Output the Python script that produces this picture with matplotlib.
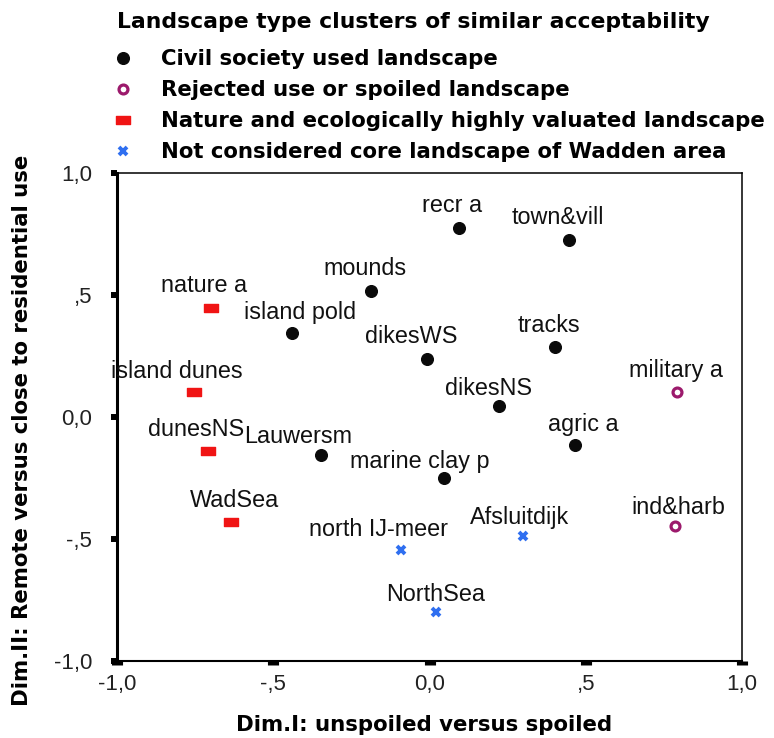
"""
Landscape type clusters of similar acceptability - 2D scaling plot"""

import matplotlib.pyplot as plt
from matplotlib.lines import Line2D
from matplotlib.path import Path

# cluster 1: civil society used landscape
civil_names = ['recr a', 'town&vill', 'mounds', 'island pold', 'dikesWS',
               'tracks', 'dikesNS', 'agric a', 'Lauwersm', 'marine clay p']
civil_x = [0.095, 0.445, -0.187, -0.440, -0.009, 0.401, 0.223, 0.467, -0.347, 0.047]
civil_y = [0.776, 0.724, 0.516, 0.343, 0.238, 0.286, 0.045, -0.115, -0.156, -0.250]

# cluster 2: rejected use or spoiled landscape
rejected_names = ['military a', 'ind&harb']
rejected_x = [0.791, 0.786]
rejected_y = [0.104, -0.446]

# cluster 3: nature and ecologically highly valuated landscape
nature_names = ['nature a', 'island dunes', 'dunesNS', 'WadSea']
nature_x = [-0.698, -0.753, -0.710, -0.634]
nature_y = [0.445, 0.101, -0.139, -0.430]

# cluster 4: not considered core landscape of Wadden area
notcore_names = ['north IJ-meer', 'Afsluitdijk', 'NorthSea']
notcore_x = [-0.092, 0.300, 0.022]
notcore_y = [-0.546, -0.489, -0.800]

cluster_labels = ['Civil society used landscape',
                  'Rejected use or spoiled landscape',
                  'Nature and ecologically highly valuated landscape',
                  'Not considered core landscape of Wadden area']
tick_values = [-1.0, -0.5, 0.0, 0.5, 1.0]
tick_labels = ['-1,0', '-,5', '0,0', ',5', '1,0']

# label placement (pixels: horizontal shift, baseline height above point)
LABEL_OFFSETS = {
    'recr a': (-7, 16), 'town&vill': (-11, 16), 'mounds': (-6, 16),
    'island pold': (8, 14), 'dikesWS': (-15, 16), 'tracks': (-6, 15),
    'dikesNS': (-11, 11), 'agric a': (8, 14), 'Lauwersm': (-23, 12),
    'marine clay p': (-24, 10), 'military a': (-1, 15), 'ind&harb': (3, 12),
    'nature a': (-7, 16), 'island dunes': (-17, 14), 'dunesNS': (-12, 15),
    'WadSea': (3, 15), 'north IJ-meer': (-22, 14), 'Afsluitdijk': (-4, 12),
    'NorthSea': (-1, 11),
}

BLACK = '#0a0a0a'
PURPLE = '#9c1a6c'
RED = '#f01414'
BLUE = '#2f6ff0'
RECT = Path([(-0.76, -0.5), (0.76, -0.5), (0.76, 0.5), (-0.76, 0.5), (-0.76, -0.5)],
            closed=True)

LABEL_FONT = 'Liberation Sans'
BOLD_FONT = 'DejaVu Sans'
BOLD_SIZE = 15.3

styles = [
    dict(marker='o', ms=8.4, color=BLACK, mec=BLACK),
    dict(marker='o', ms=6.4, mfc='white', mec=PURPLE, mew=2.3),
    dict(marker=RECT, ms=9.6, color=RED, mec=RED),
    dict(marker='x', ms=6.2, color=BLUE, mew=2.8),
]
groups = [(civil_names, civil_x, civil_y),
          (rejected_names, rejected_x, rejected_y),
          (nature_names, nature_x, nature_y),
          (notcore_names, notcore_x, notcore_y)]

fig = plt.figure(figsize=(7.74, 7.38), dpi=100)
ax = fig.add_axes([117 / 774, 77 / 738, 625 / 774, 488 / 738])

for (names, xs, ys), st in zip(groups, styles):
    ax.plot(xs, ys, linestyle='none', **st)
    for name, x, y in zip(names, xs, ys):
        dx, dy = LABEL_OFFSETS[name]
        ax.annotate(name, (x, y), xytext=(dx, dy), textcoords='offset pixels',
                    ha='center', va='baseline', fontsize=16.8,
                    family=LABEL_FONT, color='#111111')

ax.set_xlim(-1, 1)
ax.set_ylim(-1, 1)
ax.set_xticks(tick_values)
ax.set_xticklabels(tick_labels)
ax.set_yticks(tick_values)
ax.set_yticklabels(tick_labels)
for lab in ax.get_xticklabels() + ax.get_yticklabels():
    lab.set_family(LABEL_FONT)
    lab.set_fontsize(16)
    lab.set_color('#222222')
ax.tick_params(axis='x', direction='out', length=3, width=8, pad=6.5, color='black')
ax.tick_params(axis='y', direction='out', length=4.3, width=4.3, pad=13.5, color='black')

ax.spines['left'].set_linewidth(2.2)
ax.spines['bottom'].set_linewidth(1.5)
ax.spines['top'].set_linewidth(1.1)
ax.spines['right'].set_linewidth(1.1)

fig.text(424 / 774, 1 - 731 / 738, 'Dim.I: unspoiled versus spoiled',
         ha='center', va='baseline', fontsize=BOLD_SIZE, fontweight='bold',
         family=BOLD_FONT)
fig.text(22 / 774, 1 - 430 / 738, 'Dim.II: Remote versus close to residential use',
         ha='center', va='center', rotation=90, fontsize=BOLD_SIZE,
         fontweight='bold', family=BOLD_FONT)

# legend heading and entries
fig.text(117 / 774, 1 - 28.5 / 738, 'Landscape type clusters of similar acceptability',
         ha='left', va='baseline', fontsize=15.75, fontweight='bold',
         family=BOLD_FONT)
handles = [Line2D([], [], linestyle='none', **st) for st in styles]
leg = fig.legend(handles, cluster_labels, loc='upper left',
                 bbox_to_anchor=(117 / 774, 1 - 49 / 738),
                 alignment='left', frameon=False, borderpad=0, borderaxespad=0,
                 handlelength=0.6, handletextpad=1.45, labelspacing=0.52,
                 prop=dict(family=BOLD_FONT, weight='bold', size=BOLD_SIZE))

fig.savefig('out.png', dpi=100)
